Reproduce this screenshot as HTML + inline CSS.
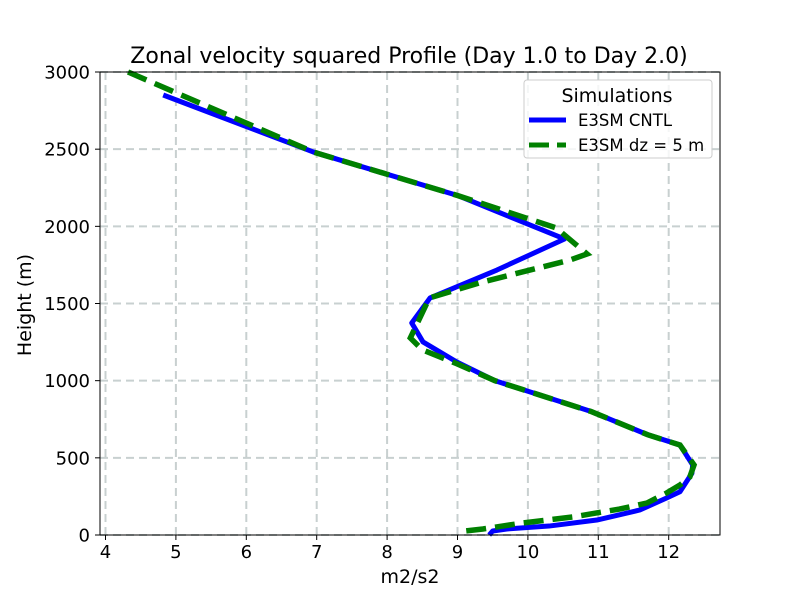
<!DOCTYPE html>
<html><head><meta charset="utf-8"><style>body{margin:0;background:#fff}svg{font-family:"DejaVu Sans","Liberation Sans",sans-serif}</style></head>
<body>
<svg width="800" height="600" viewBox="0 0 800 600">
<g id="grid"></g>
<g id="series"></g>
<rect x="100" y="72" width="620" height="463" fill="none" stroke="#000" stroke-width="1"/>
<g id="ticks"></g>
<text x="409" y="63" font-size="22" text-anchor="middle">Zonal velocity squared Profile (Day 1.0 to Day 2.0)</text>
<text x="410" y="583" font-size="19" text-anchor="middle">m2/s2</text>
<text transform="translate(31,305) rotate(-90)" font-size="19" text-anchor="middle">Height (m)</text>
<g>
<rect x="524" y="80" width="188" height="78" rx="3" fill="#fff" fill-opacity="0.8" stroke="#ccc"/>
<text x="617" y="102" font-size="19" text-anchor="middle">Simulations</text>
<line x1="529" y1="120" x2="566" y2="120" stroke="#0000ff" stroke-width="5"/>
<text x="578" y="126" font-size="16.5">E3SM CNTL</text>
<line x1="529" y1="145" x2="566" y2="145" stroke="#008000" stroke-width="5" stroke-dasharray="20,8"/>
<text x="578" y="151" font-size="16.5">E3SM dz = 5 m</text>
</g>
</svg>
<script>
const xTicks=[4,5,6,7,8,9,10,11,12];
const yTicks=[0,500,1000,1500,2000,2500,3000];
const cntlX=[4.82,6.95,9.0,10.52,9.56,8.61,8.35,8.51,8.99,9.53,10.9,11.7,12.16,12.34,12.33,12.16,11.97,11.59,10.98,10.3,9.7,9.5,9.45];
const cntlY=[2851,2482,2200,1918,1717,1536,1374,1251,1121,1000,800,650,583,454,400,280,240,162,97,58,39,26,0];
const dzX=[4.32,6.95,9.0,10.4,10.84,10.6,9.36,8.6,8.33,8.5,8.99,9.53,10.9,11.7,12.16,12.36,12.3,12.16,11.97,11.69,11.3,10.64,9.93,9.36,9.0];
const dzY=[3000,2482,2200,1990,1821,1782,1640,1536,1277,1200,1110,1000,800,650,583,454,376,324,272,207,168,117,78,39,20];
const NS='http://www.w3.org/2000/svg';
const sx=v=>105.5+(v-4)*70.4;
const sy=v=>535-v*0.15433;
const grid=document.getElementById('grid'),ticks=document.getElementById('ticks'),series=document.getElementById('series');
function mk(tag,attrs,parent){const e=document.createElementNS(NS,tag);for(const k in attrs)e.setAttribute(k,attrs[k]);parent.appendChild(e);return e;}
xTicks.forEach(t=>{
 const g=mk('line',{x1:sx(t),x2:sx(t),y1:72,y2:535,stroke:'#b0bcbc','stroke-width':2,'stroke-dasharray':'8,5','stroke-opacity':0.7},grid);
 
 
 const tk=mk('line',{x1:sx(t),x2:sx(t),y1:535,y2:540,stroke:'#000'},ticks);
 
 
 const tx=mk('text',{x:sx(t),y:558,'font-size':18,'text-anchor':'middle'},ticks);tx.textContent=t;
 
 
});
yTicks.forEach(t=>{
 const g=mk('line',{x1:100,x2:720,y1:sy(t),y2:sy(t),stroke:'#b0bcbc','stroke-width':2,'stroke-dasharray':'8,5','stroke-opacity':0.7},grid);
 
 
 const tk=mk('line',{x1:95,x2:100,y1:sy(t),y2:sy(t),stroke:'#000'},ticks);
 
 
 const tx=mk('text',{x:90,y:sy(t)+6.5,'font-size':18,'text-anchor':'end'},ticks);tx.textContent=t;
 
 
});
function pts(xs,ys){return xs.map((v,i)=>sx(v)+','+sy(ys[i])).join(' ');}
const l1=mk('polyline',{points:pts(cntlX,cntlY),fill:'none',stroke:'#0000ff','stroke-width':5,'stroke-linejoin':'round'},series);


const l2=mk('polyline',{points:pts(dzX,dzY),fill:'none',stroke:'#008000','stroke-width':5.5,'stroke-dasharray':'20,9'},series);


</script>
</body></html>
